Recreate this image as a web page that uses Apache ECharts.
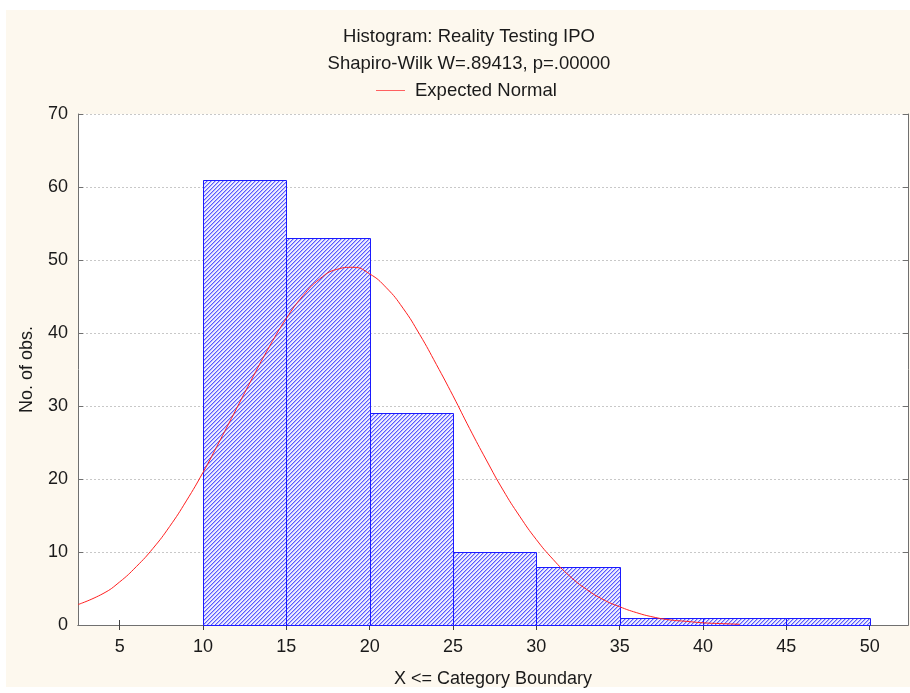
<!DOCTYPE html>
<html>
<head>
<meta charset="utf-8">
<script src="https://cdn.jsdelivr.net/npm/echarts@6/dist/echarts.min.js"></script>
<style>
  html, body { margin: 0; padding: 0; background: #ffffff; }
  #panel { position: absolute; left: 6px; top: 10px; width: 904px; height: 677px; background: #fdf8ee; }
  #chart { position: absolute; left: 0; top: 0; width: 910px; height: 693px; }
</style>
</head>
<body>
<div id="panel"></div>
<div id="chart"></div>
<script>
// Histogram bins (upper category boundaries) and counts
const binStarts = [10, 15, 20, 25, 30, 35, 40, 45];
const binEnds   = [15, 20, 25, 30, 35, 40, 45, 50];
const binCounts = [61, 53, 29, 10, 8, 1, 1, 1];

// Expected normal curve, sampled along X
const normalX = [2.5, 4, 5, 6, 7, 8, 9, 10, 11, 12, 13, 14, 15, 16, 17, 18, 19, 20, 21, 22,
                 23, 24, 25, 26, 27, 28, 29, 30, 31, 32, 33, 34, 35, 36, 37, 38, 39, 40, 41, 42.2];
const normalY = [2.8, 4.3, 5.9, 8.0, 10.5, 13.5, 17.0, 20.9, 25.2, 29.6, 34.0, 38.2, 42.0, 45.1, 47.4, 48.7, 49.0, 48.1, 46.2, 43.4,
                 39.8, 35.7, 31.4, 26.9, 22.6, 18.5, 14.9, 11.7, 9.0, 6.7, 4.9, 3.5, 2.5, 1.7, 1.1, 0.7, 0.5, 0.3, 0.2, 0.1];

const xTicks = [5, 10, 15, 20, 25, 30, 35, 40, 45, 50];

const titleText = 'Histogram: Reality Testing IPO';
const subtitleText = 'Shapiro-Wilk W=.89413, p=.00000';
const xName = 'X <= Category Boundary';
const yName = 'No. of obs.';

// Diagonal hatch fill for the bars, built pixel by pixel so it stays crisp
function hatchPattern() {
  const n = 4;
  const c = document.createElement('canvas');
  c.width = n; c.height = n;
  const g = c.getContext('2d');
  g.fillStyle = '#eeeeff';
  g.fillRect(0, 0, n, n);
  for (let y = 0; y < n; y++) {
    const x = n - 1 - y;
    g.fillStyle = '#5a5aff';
    g.fillRect(x, y, 1, 1);
    g.fillStyle = '#b4b4ff';
    g.fillRect((x + 1) % n, y, 1, 1);
  }
  return c;
}
const hatch = { image: hatchPattern(), repeat: 'repeat' };

const font = 'Liberation Sans, Arial, sans-serif';
const textColor = '#1a1a1a';
const binData = binStarts.map((s, i) => [s, binEnds[i], binCounts[i]]);
const curveData = normalX.map((x, i) => [x, normalY[i]]);

const chart = echarts.init(document.getElementById('chart'), null, { renderer: 'canvas' });
chart.setOption({
  backgroundColor: 'transparent',
  animation: false,
  title: [
    { text: titleText, left: 464, top: 22, textAlign: 'center',
      textStyle: { fontFamily: font, fontSize: 18.5, fontWeight: 'normal', color: textColor } },
    { text: subtitleText, left: 464, top: 49, textAlign: 'center',
      textStyle: { fontFamily: font, fontSize: 18.5, fontWeight: 'normal', color: textColor } }
  ],
  legend: {
    left: 371, top: 76,
    icon: 'rect', itemWidth: 29, itemHeight: 1,
    textStyle: { fontFamily: font, fontSize: 18.5, color: textColor, padding: [0, 0, 0, 5] },
    data: [{ name: 'Expected Normal', itemStyle: { color: '#ff6060' } }]
  },
  grid: { left: 78, top: 114, right: 2, bottom: 67, show: true, backgroundColor: '#ffffff', borderWidth: 0 },
  xAxis: [
    {
      type: 'value', position: 'bottom', min: 2.5, max: 52.3,
      name: xName, nameLocation: 'middle', nameGap: 45,
      nameTextStyle: { fontFamily: font, fontSize: 18, color: textColor },
      axisLine: { show: true, lineStyle: { color: '#707070', width: 1 } },
      axisTick: { show: true, inside: true, length: 5, customValues: xTicks, lineStyle: { color: '#404040' } },
      axisLabel: { customValues: xTicks, fontFamily: font, fontSize: 18, color: textColor, margin: 13 },
      splitLine: { show: false }
    },
    {
      type: 'value', position: 'top', min: 2.5, max: 52.3,
      axisLine: { show: true, lineStyle: { color: '#707070', width: 1 } },
      axisTick: { show: true, inside: true, length: 5, customValues: xTicks, lineStyle: { color: '#404040' } },
      axisLabel: { show: false },
      splitLine: { show: false }
    }
  ],
  yAxis: [
    {
      type: 'value', position: 'left', min: 0, max: 70, interval: 10,
      name: yName, nameLocation: 'middle', nameGap: 42, nameRotate: 90,
      nameTextStyle: { fontFamily: font, fontSize: 18, color: textColor },
      axisLine: { show: true, lineStyle: { color: '#707070', width: 1 } },
      axisTick: { show: true, inside: true, length: 5, lineStyle: { color: '#707070' } },
      axisLabel: { fontFamily: font, fontSize: 18, color: textColor, margin: 10 },
      splitLine: { show: true, lineStyle: { color: '#c8c8c8', type: [2, 2], width: 1 } }
    },
    {
      type: 'value', position: 'right', min: 0, max: 70, interval: 10,
      axisLine: { show: true, lineStyle: { color: '#707070', width: 1 } },
      axisTick: { show: true, inside: true, length: 5, lineStyle: { color: '#707070' } },
      axisLabel: { show: false },
      splitLine: { show: false }
    }
  ],
  series: [
    {
      name: 'Histogram',
      type: 'custom',
      xAxisIndex: 0, yAxisIndex: 0,
      data: binData,
      z: 2,
      renderItem: function (params, api) {
        const topLeft = api.coord([api.value(0), api.value(2)]);
        const bottomRight = api.coord([api.value(1), 0]);
        return {
          type: 'rect',
          shape: {
            x: Math.round(topLeft[0]) + 0.5,
            y: Math.round(topLeft[1]) + 0.5,
            width: Math.round(bottomRight[0]) - Math.round(topLeft[0]),
            height: Math.round(bottomRight[1]) - Math.round(topLeft[1])
          },
          style: { fill: hatch, stroke: '#1a1aff', lineWidth: 1 }
        };
      }
    },
    {
      name: 'Expected Normal',
      type: 'line',
      xAxisIndex: 0, yAxisIndex: 0,
      data: curveData,
      smooth: true,
      symbol: 'none',
      z: 3,
      lineStyle: { color: '#ff2020', width: 1 }
    }
  ]
});
</script>
</body>
</html>
